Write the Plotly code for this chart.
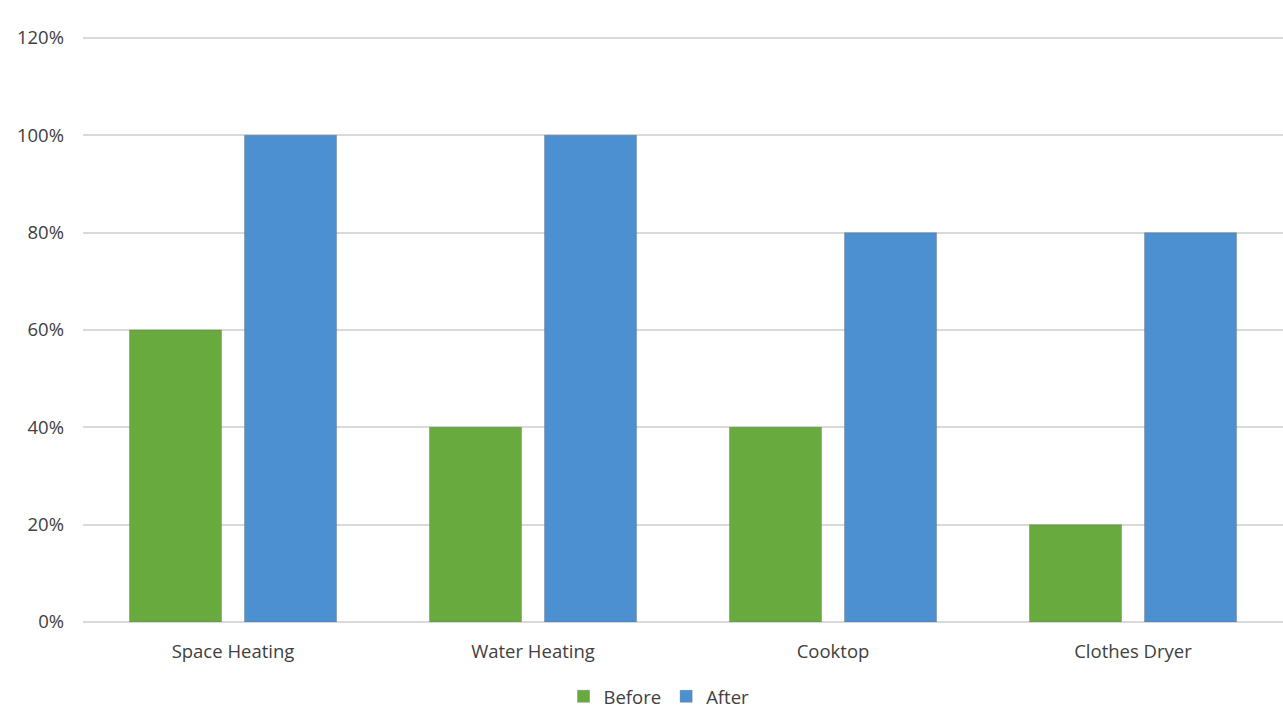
import plotly.graph_objects as go

categories = ["Space Heating", "Water Heating", "Cooktop", "Clothes Dryer"]
before = [0.60, 0.40, 0.40, 0.20]
after = [1.00, 1.00, 0.80, 0.80]
y_ticks = [0, 0.2, 0.4, 0.6, 0.8, 1.0, 1.2]

green = "#69aa3f"
blue = "#4c90d1"
text_color = "#404040"
grid_color = "#d9d9d9"

fig = go.Figure()
fig.add_trace(go.Bar(
    name="Before", x=categories, y=before,
    marker=dict(color=green, line=dict(color="rgba(90,90,90,0.3)", width=1)),
))
fig.add_trace(go.Bar(
    name="After", x=categories, y=after,
    marker=dict(color=blue, line=dict(color="rgba(90,90,90,0.3)", width=1)),
))

fig.update_layout(
    width=1283, height=719,
    margin=dict(l=83, r=0, t=33, b=97),
    paper_bgcolor="white", plot_bgcolor="white",
    barmode="group", bargap=0.233, bargroupgap=0.2,
    font=dict(family="'Open Sans', sans-serif", size=18.5, color=text_color),
    legend=dict(
        orientation="h", x=0.48, xanchor="center", y=-0.127, yanchor="middle",
        font=dict(size=18.5, color=text_color), itemwidth=30,
        traceorder="normal",
    ),
    showlegend=True,
)
fig.update_yaxes(
    range=[0, 1.2103], tickvals=y_ticks, tickformat=".0%",
    showgrid=True, gridcolor=grid_color, gridwidth=1.5,
    zeroline=True, zerolinecolor=grid_color, zerolinewidth=1.5,
    showline=False, ticklabelstandoff=18,
)
fig.update_xaxes(
    showgrid=False, showline=False, ticklabelstandoff=16,
)

fig.write_html("out.html")
